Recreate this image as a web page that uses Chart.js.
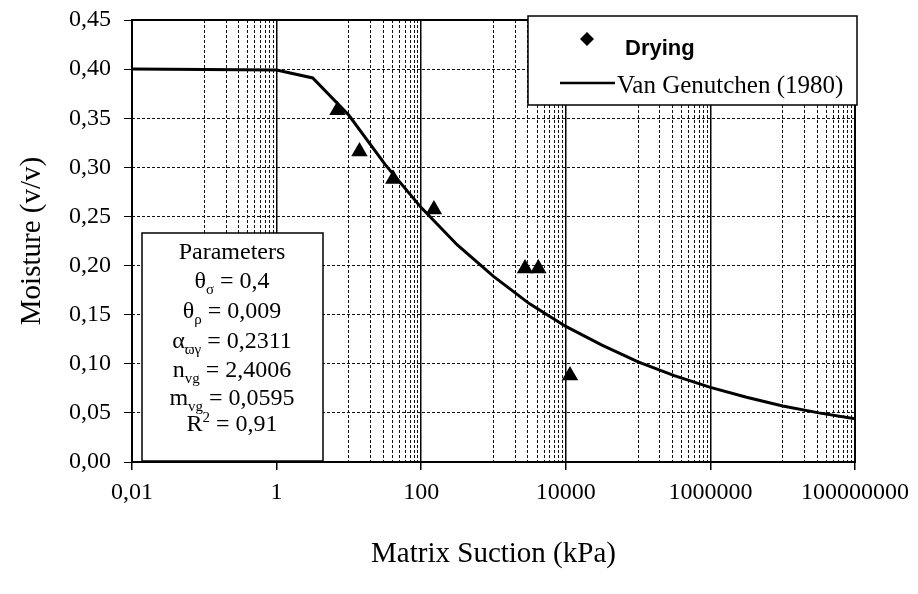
<!DOCTYPE html>
<html>
<head>
<meta charset="utf-8">
<script src="https://cdn.jsdelivr.net/npm/chart.js@4/dist/chart.umd.min.js"></script>
<style>
  body { margin: 0; background: #fff; }
  #wrap { width: 918px; height: 594px; }
</style>
</head>
<body>
<div id="wrap"><canvas id="swcc" width="918" height="594"></canvas></div>
<script>
// drying measurements (kPa, v/v)
const dryingSuction = [6.95, 14.0, 41.1, 150, 2730, 4170, 11430];
const dryingMoisture = [0.358, 0.316, 0.288, 0.257, 0.197, 0.197, 0.088];

// Van Genutchen (1980) fitted curve
const vgSuction = [0.01, 1, 3.16, 10, 31.6, 100, 316, 1000, 3162, 10000, 31623, 100000,
  316228, 1000000, 3162278, 10000000, 31622777, 100000000];
const vgMoisture = [0.400, 0.399, 0.391, 0.353, 0.303, 0.259, 0.221, 0.189, 0.161, 0.138,
  0.119, 0.102, 0.088, 0.076, 0.066, 0.057, 0.050, 0.044];

// axis ticks
const xMajorTicks = [0.01, 1, 100, 10000, 1000000, 100000000];
const xTickLabels = ['0,01', '1', '100', '10000', '1000000', '100000000'];
const yTicks = [0, 0.05, 0.10, 0.15, 0.20, 0.25, 0.30, 0.35, 0.40, 0.45];
const yTickLabels = ['0,00', '0,05', '0,10', '0,15', '0,20', '0,25', '0,30', '0,35', '0,40', '0,45'];

// minor grid lines: Excel style log axis with base 100
const xGridTicks = [];
for (let i = 0; i < xMajorTicks.length - 1; i++) {
  xGridTicks.push(xMajorTicks[i]);
  for (let k = 1; k <= 9; k++) xGridTicks.push(xMajorTicks[i] * 10 * k);
}
xGridTicks.push(xMajorTicks[xMajorTicks.length - 1]);

const majorIndex = v => xMajorTicks.findIndex(m => Math.abs(Math.log10(m) - Math.log10(v)) < 1e-6);

Chart.defaults.font.family = "'Liberation Serif', 'Times New Roman', serif";
Chart.defaults.color = '#000';

// draws subscripted text centred on cx
function richLine(ctx, parts, cx, y) {
  const main = "24px 'Liberation Serif'";
  const small = "15px 'Liberation Serif'";
  let w = 0;
  parts.forEach(p => { ctx.font = p.sub || p.sup ? small : main; w += ctx.measureText(p.t).width; });
  let x = cx - w / 2;
  parts.forEach(p => {
    ctx.font = p.sub || p.sup ? small : main;
    const dy = p.sub ? 6 : (p.sup ? -9 : 0);
    ctx.fillText(p.t, x, y + dy);
    x += ctx.measureText(p.t).width;
  });
}

const overlay = {
  id: 'overlay',
  afterDraw(chart) {
    const ctx = chart.ctx;
    const a = chart.chartArea;
    ctx.save();
    // plot frame
    ctx.strokeStyle = '#000';
    ctx.lineWidth = 2;
    ctx.strokeRect(a.left, a.top, a.right - a.left, a.bottom - a.top);

    // legend box
    ctx.fillStyle = '#fff';
    ctx.fillRect(528, 16, 329, 89);
    ctx.lineWidth = 1.5;
    ctx.strokeRect(528, 16, 329, 89);
    ctx.fillStyle = '#000';
    ctx.beginPath();
    ctx.moveTo(587, 32); ctx.lineTo(594, 39); ctx.lineTo(587, 46); ctx.lineTo(580, 39);
    ctx.closePath();
    ctx.fill();
    ctx.font = "bold 22px 'Liberation Sans'";
    ctx.textBaseline = 'alphabetic';
    ctx.textAlign = 'left';
    ctx.fillText('Drying', 625, 55);
    ctx.lineWidth = 2.5;
    ctx.beginPath();
    ctx.moveTo(560, 83); ctx.lineTo(615, 83);
    ctx.stroke();
    ctx.font = "25px 'Liberation Serif'";
    ctx.fillText('Van Genutchen (1980)', 617, 93);

    // parameters box
    ctx.fillStyle = '#fff';
    ctx.fillRect(142, 233, 181, 228);
    ctx.lineWidth = 1.5;
    ctx.strokeRect(142, 233, 181, 228);
    ctx.fillStyle = '#000';
    const cx = 232;
    richLine(ctx, [{t: 'Parameters'}], cx, 259);
    richLine(ctx, [{t: 'θ'}, {t: 'σ', sub: true}, {t: ' = 0,4'}], cx, 288);
    richLine(ctx, [{t: 'θ'}, {t: 'ρ', sub: true}, {t: ' = 0,009'}], cx, 318);
    richLine(ctx, [{t: 'α'}, {t: 'ϖγ', sub: true}, {t: ' = 0,2311'}], cx, 348);
    richLine(ctx, [{t: 'n'}, {t: 'vg', sub: true}, {t: ' = 2,4006'}], cx, 377);
    richLine(ctx, [{t: 'm'}, {t: 'vg', sub: true}, {t: ' = 0,0595'}], cx, 405);
    richLine(ctx, [{t: 'R'}, {t: '2', sup: true}, {t: ' = 0,91'}], cx, 431);
    ctx.restore();
  }
};

new Chart(document.getElementById('swcc'), {
  type: 'scatter',
  data: {
    datasets: [
      {
        label: 'Drying',
        data: dryingSuction.map((x, i) => ({x: x, y: dryingMoisture[i]})),
        pointStyle: 'triangle',
        pointRadius: 9.5,
        backgroundColor: '#000',
        borderColor: '#000',
        borderWidth: 0
      },
      {
        label: 'Van Genutchen (1980)',
        data: vgSuction.map((x, i) => ({x: x, y: vgMoisture[i]})),
        showLine: true,
        pointRadius: 0,
        borderColor: '#000',
        borderWidth: 3,
        tension: 0
      }
    ]
  },
  options: {
    responsive: false,
    animation: false,
    layout: { padding: { left: 0, top: 20, right: 63, bottom: 0 } },
    plugins: {
      legend: { display: false },
      tooltip: { enabled: false }
    },
    scales: {
      x: {
        type: 'logarithmic',
        min: 0.01,
        max: 100000000,
        afterBuildTicks: s => { s.ticks = xGridTicks.map(v => ({value: v})); },
        afterFit: s => { s.height = 132; },
        border: {
          display: false,
          dash: c => (c.tick && majorIndex(c.tick.value) < 0 ? [3, 2] : [])
        },
        grid: {
          color: c => (c.tick && majorIndex(c.tick.value) >= 0 ? '#000' : '#111'),
          lineWidth: c => (c.tick && majorIndex(c.tick.value) >= 0 ? 1.5 : 1),
          tickColor: c => (c.tick && majorIndex(c.tick.value) >= 0 ? '#000' : 'rgba(0,0,0,0)'),
          tickLength: 8
        },
        ticks: {
          autoSkip: false,
          maxRotation: 0,
          padding: 8,
          font: { size: 24 },
          callback: v => { const i = majorIndex(v); return i >= 0 ? xTickLabels[i] : ''; }
        },
        title: {
          display: true,
          text: 'Matrix Suction (kPa)',
          font: { size: 29 },
          padding: { top: 0, bottom: 22 }
        }
      },
      y: {
        min: 0,
        max: 0.45,
        afterBuildTicks: s => { s.ticks = yTicks.map(v => ({value: v})); },
        afterFit: s => { s.width = 132; s.paddingTop = 0; s.paddingBottom = 0; },
        border: { display: false, dash: c => (c.tick ? [3, 2] : []) },
        grid: { color: '#111', lineWidth: 1, tickColor: '#000', tickLength: 8 },
        ticks: {
          padding: 13,
          font: { size: 24 },
          callback: (v, i) => yTickLabels[i]
        },
        title: {
          display: true,
          text: 'Moisture (v/v)',
          font: { size: 29 },
          padding: { top: 15, bottom: 0 }
        }
      }
    }
  },
  plugins: [overlay]
});
</script>
</body>
</html>
